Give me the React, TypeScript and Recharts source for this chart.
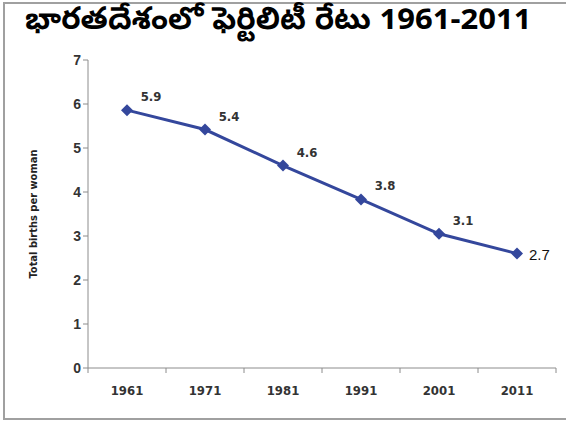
import { LineChart, Line, XAxis, YAxis, Label, LabelList } from 'recharts';

const years = ['1961', '1971', '1981', '1991', '2001', '2011'];
const births = [5.86, 5.42, 4.6, 3.83, 3.05, 2.6];
const shownValues = ['5.9', '5.4', '4.6', '3.8', '3.1', '2.7'];
const yTicks = [0, 1, 2, 3, 4, 5, 6, 7];

const data = years.map((year, i) => ({ year, births: births[i], shown: shownValues[i] }));

const W = 569;
const H = 426;
const LEFT = 88;
const RIGHT = 13;
const BAND = (W - LEFT - RIGHT) / years.length;
const BLUE = '#34479c';
const NARROW = "'Liberation Sans Narrow', 'DejaVu Sans Condensed', sans-serif";

const YearTick = (props: any) => {
    const { x, y, payload, index } = props;
    return (
        <g>
            <line x1={x - BAND / 2} x2={x - BAND / 2} y1={y - 8} y2={y - 3} stroke="#8c8c8c" />
            {index === years.length - 1 && (
                <line x1={x + BAND / 2} x2={x + BAND / 2} y1={y - 8} y2={y - 3} stroke="#8c8c8c" />
            )}
            <text x={x} y={y + 19} textAnchor="middle" fontSize={13} fontWeight="bold" fill="#333" fontFamily={NARROW}>
                {payload.value}
            </text>
        </g>
    );
};

const Diamond = (props: any) => {
    const { cx, cy } = props;
    if (cx == null || cy == null) return null;
    return <path d={`M${cx},${cy - 6}L${cx + 6},${cy}L${cx},${cy + 6}L${cx - 6},${cy}Z`} fill={BLUE} />;
};

const ValueLabel = (props: any) => {
    const { x, y, value, index } = props;
    if (index === years.length - 1) {
        return (
            <text x={x + 12} y={y + 6} fontSize={15} fill="#111" fontFamily="'Liberation Sans', Arial, sans-serif">
                {value}
            </text>
        );
    }
    return (
        <text x={x + 24} y={y - 9} textAnchor="middle" fontSize={13} fontWeight="bold" fill="#333" fontFamily={NARROW}>
            {value}
        </text>
    );
};

export default function App() {
    return (
        <div style={{ position: 'fixed', top: 0, left: 0, width: W, height: H, background: '#fff' }}>
            <div style={{ position: 'absolute', left: 3, top: 2, width: 561, height: 414, border: '2px solid #a0a0a0', borderRight: 'none' }} />
            <div style={{
                position: 'absolute', left: 25, top: 2, fontSize: 31, fontWeight: 'bold', color: '#000',
                fontFamily: "'Noto Sans Telugu', 'Noto Sans', 'DejaVu Sans', sans-serif", whiteSpace: 'nowrap'
            }}>
                భారతదేశంలో ఫెర్టిలిటీ రేటు 1961-2011
            </div>
            <div style={{ position: 'absolute', left: 0, top: 0 }}>
                <LineChart width={W} height={H} data={data} margin={{ top: 60, right: RIGHT, bottom: 0, left: 0 }}>
                    <XAxis dataKey="year" scale="band" height={58} stroke="#8c8c8c" tickLine={false} tick={<YearTick />} interval={0} />
                    <YAxis domain={[0, 7]} ticks={yTicks} width={LEFT} stroke="#8c8c8c" tickSize={5}
                        tick={{ fill: '#333', fontSize: 14, fontWeight: 'bold', fontFamily: "'Liberation Sans', Arial, sans-serif" }}>
                        <Label value="Total births per woman" angle={-90} position="insideLeft" offset={33}
                            style={{ textAnchor: 'middle', fontSize: 11, fontWeight: 'bold', fill: '#222', fontFamily: NARROW }} />
                    </YAxis>
                    <Line dataKey="births" stroke={BLUE} strokeWidth={3} dot={<Diamond />} activeDot={false} isAnimationActive={false}>
                        <LabelList dataKey="shown" content={<ValueLabel />} />
                    </Line>
                </LineChart>
            </div>
        </div>
    );
}
